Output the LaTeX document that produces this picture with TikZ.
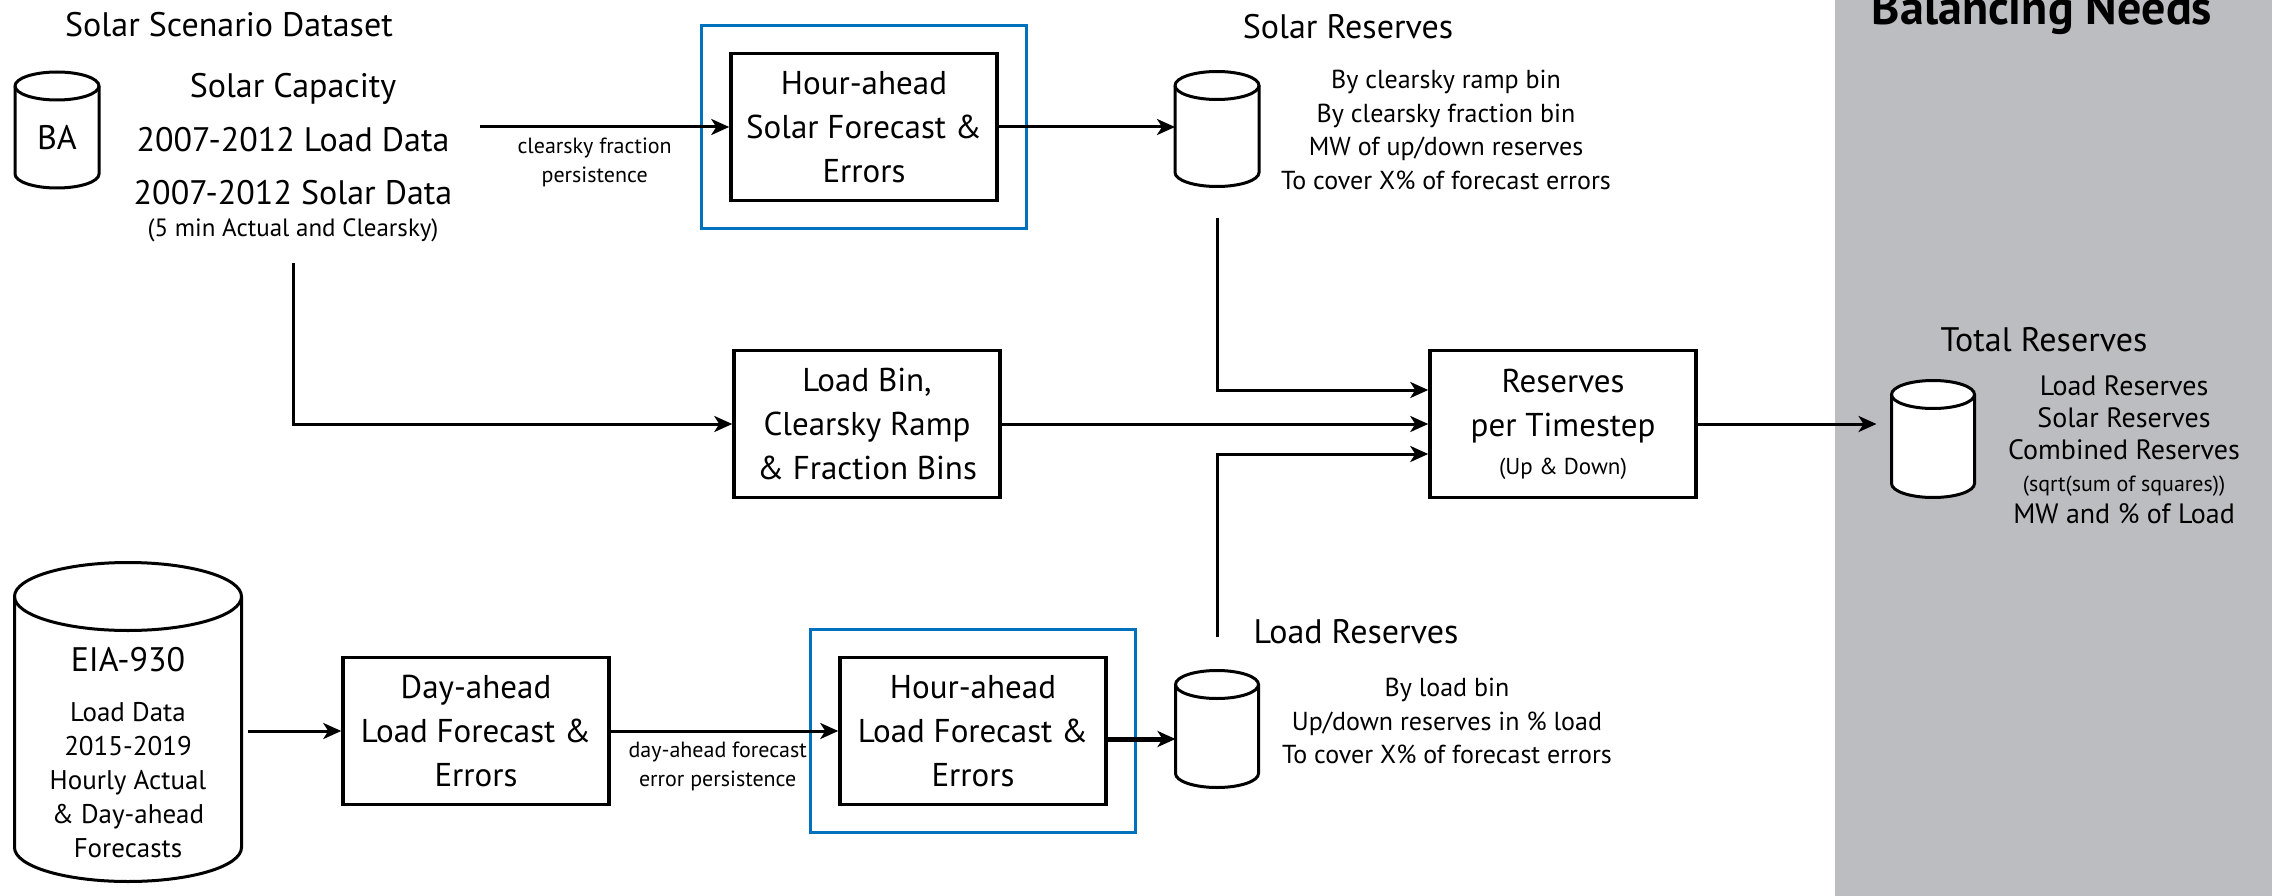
\documentclass[tikz,border=0pt]{standalone}
\usepackage{fontspec}
\setmainfont{PT Sans}
\usepackage{tikz}
\usetikzlibrary{arrows.meta, positioning, fit}
\definecolor{frameblue}{RGB}{0,114,189}
\definecolor{panelgray}{RGB}{188,189,192}
\newcommand{\fsz}[2]{\fontsize{#1}{#2}\selectfont}

\begin{document}
\begin{tikzpicture}[
    x=1pt, y=-1pt,
    procbox/.style={rectangle, draw=black, line width=3.5pt, minimum width=266pt, minimum height=147pt, align=center, inner sep=0pt, font=\fsz{33}{44}},
    blueframe/.style={rectangle, draw=frameblue, line width=3pt, inner xsep=28pt, inner ysep=26pt},
    dbnode/.style={rectangle, minimum width=84pt, minimum height=116pt, inner sep=0pt, outer sep=0pt},
    dbline/.style={draw=black, fill=white, line width=3pt},
    heading/.style={inner sep=0pt, font=\fsz{34}{40}},
    desclist/.style={inner sep=0pt, align=center, font=\fsz{26}{33.7}},
    edgelabel/.style={inner sep=0pt, align=center, font=\fsz{22}{29}},
    flow/.style={-{Stealth[length=18pt, width=16pt, inset=5pt]}, line width=3pt},
    ]

    \useasboundingbox (0,0) rectangle (2272,896);
    \fill[panelgray] (1835,0) rectangle (2272,896);

    % solar scenario dataset
    \node[heading]                  (ssdtitle)  at (229,25)   {Solar Scenario Dataset};
    \node[dbnode]                   (ba)        at (57,130)   {};
    \node[heading]                  (ssdcap)    at (293,89)   {Solar Capacity};
    \node[heading]                  (ssdload)   at (293,140)  {2007-2012 Load Data};
    \node[heading]                  (ssdsolar)  at (293,193)  {2007-2012 Solar Data};
    \node[heading, font=\fsz{25}{30}] (ssdnote) at (293,230)  {(5 min Actual and Clearsky)};
    \coordinate                     (ssdright)  at (480,127);
    \coordinate                     (ssdout)    at (293,263);

    \node[procbox]                  (hsolar)    at (864,127)  {Hour-ahead\\Solar Forecast \&\\Errors};
    \node[blueframe, fit=(hsolar)]  (hsolarfr)                {};

    % solar reserves
    \node[dbnode, minimum height=115pt] (solres) at (1217,129) {};
    \node[heading]                  (solrestitle) at (1348,27) {Solar Reserves};
    \node[desclist]                 (solreslist)  at (1446,130) {By clearsky ramp bin\\By clearsky fraction bin\\MW of up/down reserves\\To cover X\% of forecast errors};
    \coordinate                     (solresout) at (1217,218);

    \node[procbox]                  (binbox)    at (867,424)  {Load Bin,\\Clearsky Ramp\\\& Fraction Bins};
    \node[procbox]                  (resbox)    at (1563,424) {Reserves\\per Timestep\\[-6pt]{\fsz{23}{30}(Up \& Down)}};

    % load data
    \node[dbnode, minimum width=227pt, minimum height=319pt] (eia) at (128,722) {};
    \node[procbox]                  (dabox)     at (476,731)  {Day-ahead\\Load Forecast \&\\Errors};
    \node[procbox]                  (hload)     at (973,731)  {Hour-ahead\\Load Forecast \&\\Errors};
    \node[blueframe, fit=(hload)]   (hloadfr)                 {};

    % load reserves
    \node[dbnode, minimum width=83pt, minimum height=117pt] (ldres) at (1217,729) {};
    \node[heading]                  (ldrestitle) at (1356,632) {Load Reserves};
    \node[desclist]                 (ldreslist)  at (1447,721) {By load bin\\Up/down reserves in \% load\\To cover X\% of forecast errors};
    \coordinate                     (ldresout)  at (1217,637);

    % balancing needs
    \node[anchor=base, inner sep=0pt, font=\fsz{48}{56}\bfseries] (balance) at (2042,25) {Balancing Needs};
    \node[heading]                  (totaltitle) at (2044,340) {Total Reserves};
    \node[dbnode, minimum width=83pt, minimum height=117pt] (totres) at (1933,439) {};
    \node[inner sep=0pt, align=center, font=\fsz{28}{32}] (totlist) at (2124,450) {Load Reserves\\Solar Reserves\\Combined Reserves\\{\fsz{22}{32}(sqrt(sum of squares))}\\MW and \% of Load};

    % cylinders
    \foreach \db/\rx/\ry in {ba/42/14, solres/42/14, ldres/41.5/14, totres/41.5/14, eia/113.5/34} {
        \filldraw[dbline] ([yshift=-\ry pt]\db.north west) -- ([yshift=\ry pt]\db.south west)
            arc[start angle=180, end angle=360, x radius=\rx pt, y radius=\ry pt]
            -- ([yshift=-\ry pt]\db.north east)
            arc[start angle=0, end angle=180, x radius=\rx pt, y radius=\ry pt] -- cycle;
        \draw[dbline, fill=none] ([yshift=-\ry pt]\db.north west)
            arc[start angle=180, end angle=360, x radius=\rx pt, y radius=\ry pt];
    }
    \node[heading]                  (batext)    at (57,138)   {BA};
    \node[heading]                  (eiatitle)  at (128,660)  {EIA-930};
    \node[desclist, font=\fsz{27}{33.8}] (eialist) at (128,780) {Load Data\\2015-2019\\Hourly Actual\\\& Day-ahead\\Forecasts};

    \draw[flow] (ssdright) -- node[edgelabel, below=9pt, pos=0.46] {clearsky fraction\\persistence} (hsolar.west);
    \draw[flow] (hsolar.east) -- (hsolar.east -| solres.west);
    \draw[flow] (ssdout) |- (binbox.west);

    \draw[flow] (solresout) |- ([yshift=34pt]resbox.west);
    \draw[flow] (binbox.east) -- (resbox.west);
    \draw[flow] (ldresout) |- ([yshift=-30pt]resbox.west);
    \draw[flow, shorten >=15pt] (resbox.east) -- (resbox.east -| totres.west);

    \draw[flow, shorten <=6pt] (eia.east |- dabox.west) -- (dabox.west);
    \draw[flow] (dabox.east) -- node[edgelabel, below=9pt, pos=0.47] {day-ahead forecast\\error persistence} (hload.west);
    \draw[flow, line width=5pt] ([yshift=-8pt]hload.east) -- ([yshift=-8pt]hload.east -| ldres.west);

\end{tikzpicture}
\end{document}
